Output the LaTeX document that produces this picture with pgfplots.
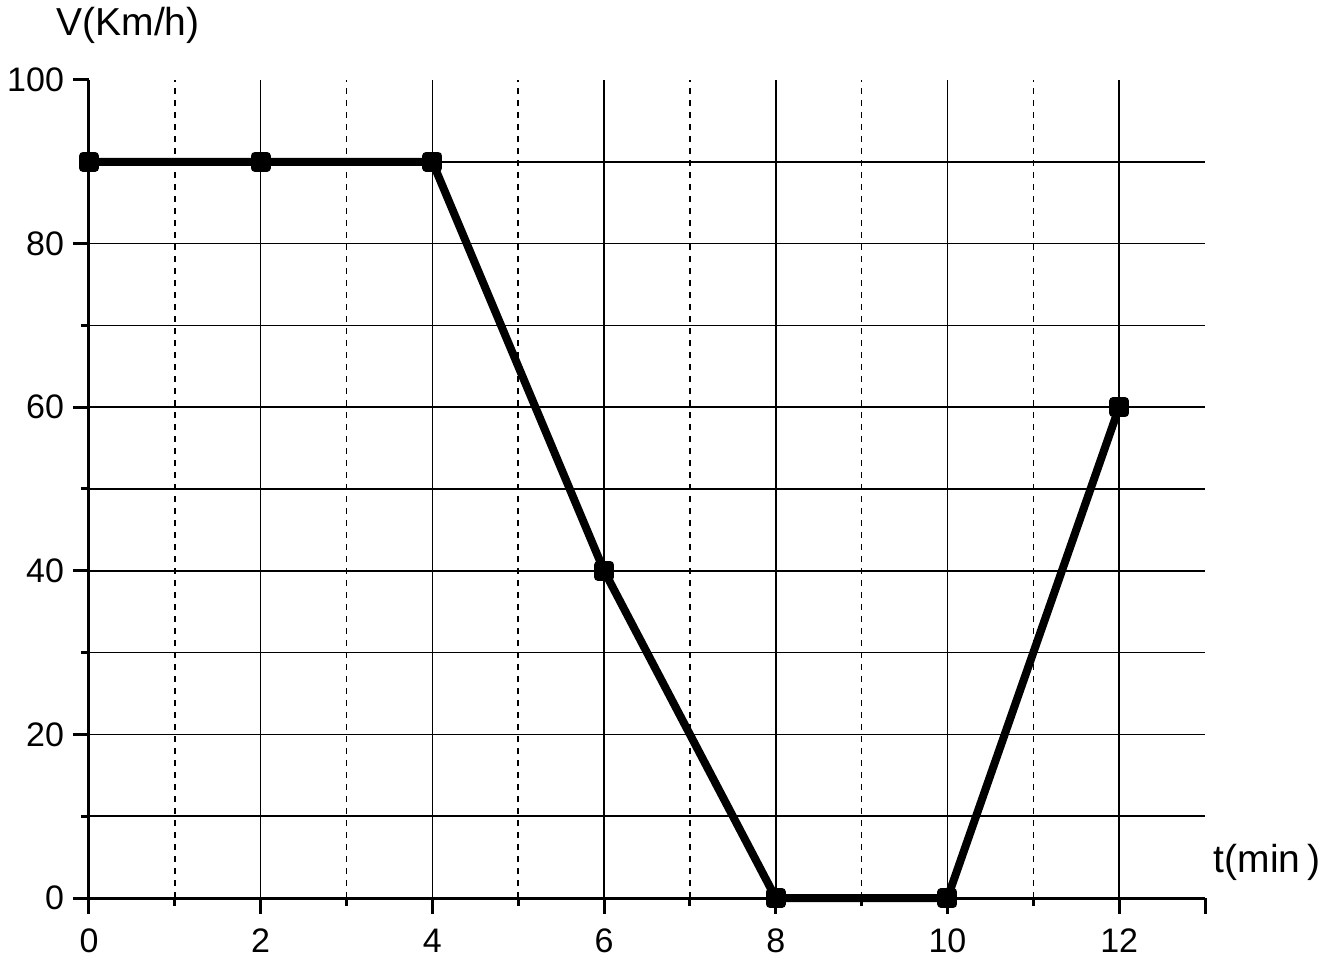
\documentclass[border=0pt]{standalone}
\usepackage{fontspec}
\setmainfont{Liberation Sans}
\usepackage{pgfplots}
\pgfplotsset{compat=1.18}

\begin{document}
\begin{tikzpicture}
  \begin{axis}[
      at={(0,0)}, anchor=south west,
      scale only axis, width=558bp, height=409bp,
      xmin=0, xmax=13, ymin=0, ymax=100,
      axis x line=bottom, axis y line=left,
      axis line style={-, line width=1.5bp},
      xtick={0,2,...,12}, minor xtick={1,3,...,11},
      extra x ticks={13}, extra x tick labels={},
      extra x tick style={grid=none, major tick length=8bp},
      ytick={0,20,...,80}, minor ytick={10,30,...,90},
      extra y ticks={100}, extra y tick labels={100},
      extra y tick style={grid=none, major tick length=8bp},
      tick align=outside,
      major tick length=8bp, minor tick length=4bp,
      tick style={black, line width=1.5bp},
      grid=both,
      major grid style={black, line width=0.75bp, solid},
      minor x grid style={black, line width=0.75bp, dashed, dash pattern=on 3bp off 3bp},
      minor y grid style={black, line width=0.75bp, solid},
      /pgf/number format/assume math mode=true,
      ticklabel style={font=\fontsize{17bp}{20bp}\selectfont},
      xticklabel style={anchor=base, yshift=-19bp},
      yticklabel style={anchor=east, xshift=-1bp},
      xlabel={t(min\,)}, ylabel={V(Km/h)},
      label style={font=\fontsize{19.5bp}{23bp}\selectfont},
      xlabel style={at={(axis description cs:1.0556,0.044)}, anchor=center},
      ylabel style={rotate=-90, at={(axis description cs:0.035,1.067)}, anchor=center},
      clip=false,
    ]
    \addplot[black, line width=4bp, line join=round,
             mark=square*, mark size=3bp, mark options={solid}]
      coordinates {(0,90) (2,90) (4,90) (6,40) (8,0) (10,0) (12,60)};
  \end{axis}
  \pgfresetboundingbox
  \path[use as bounding box] (-44.5bp,-32bp) rectangle (620.5bp,449bp);
\end{tikzpicture}
\end{document}
